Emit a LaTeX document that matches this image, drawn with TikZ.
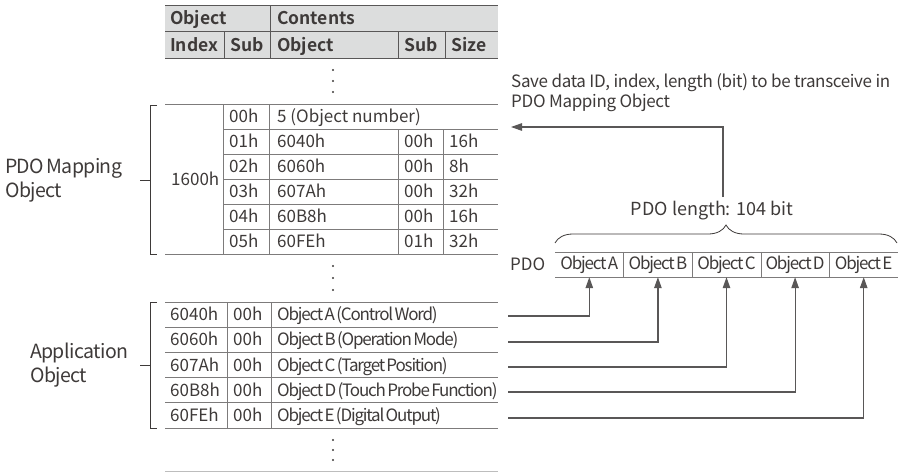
\documentclass[tikz,border=0pt]{standalone}
\usepackage{fontspec}
\setmainfont{Noto Sans CJK SC}[BoldFont={Noto Sans CJK SC Bold}]
\newfontfamily\narrowfont{Noto Sans CJK SC}[LetterSpace=-7, WordSpace=0.5]
\newfontfamily\labelfont{Noto Sans CJK SC}[LetterSpace=-3, WordSpace=0.6]
\newfontfamily\notefont{Noto Sans CJK SC}[LetterSpace=-2]
\usepackage{tikz}
\usetikzlibrary{arrows.meta, positioning, decorations.pathreplacing}
\definecolor{ink}{HTML}{3E3A39}
\definecolor{rule}{HTML}{7D7B7B}
\definecolor{ruleDark}{HTML}{595757}
\definecolor{ruleSoft}{HTML}{BDBDBD}
\definecolor{band}{HTML}{DCDDDD}

\begin{document}
\begin{tikzpicture}[x=1pt, y=-1pt, font=\fontsize{17pt}{20pt}\selectfont, text=ink]
    \tikzset{
      cell/.style={inner sep=0pt, anchor=west, text height=12.5pt, text depth=0.5pt},
      hd/.style={cell, font=\fontsize{17.5pt}{20pt}\selectfont\bfseries},
      tight/.style={cell, font=\narrowfont\fontsize{17pt}{20pt}\selectfont},
      slot/.style={inner sep=0pt, minimum width=68.6pt, minimum height=25pt,
                   font=\narrowfont\fontsize{17pt}{20pt}\selectfont},
      lbl/.style={inner sep=0pt, anchor=west, align=left,
                  font=\labelfont\fontsize{19.5pt}{24pt}\selectfont},
      grid/.style={draw=rule, line width=0.8pt},
      hdline/.style={draw=ruleDark, line width=0.9pt},
      soft/.style={draw=ruleSoft, line width=0.8pt},
      brk/.style={draw=ink, line width=0.9pt},
      arr/.style={-{Triangle[length=11pt, width=7.5pt]}, draw=ruleDark, line width=1.2pt}
    }
    \useasboundingbox (0,0) rectangle (904,474);

    % header
    \fill[band] (165,5) rectangle (498,58);
    \draw[hdline] (165,5) -- (498,5) (165,31.5) -- (498,31.5) (165,58) -- (498,58);
    \draw[hdline] (270,5) -- (270,58) (224,31.5) -- (224,58)
                  (398,31.5) -- (398,58) (445,31.5) -- (445,58);
    \node[hd] (hobj) at (170,18.5) {Object};
    \node[hd] (hcon) at (277,18.5) {Contents};
    \node[hd] (hidx) at (170,45) {Index};
    \node[hd] (hsub) at (230,45) {Sub};
    \node[hd] (hobj2) at (277,45) {Object};
    \node[hd] (hsub2) at (404,45) {Sub};
    \node[hd] (hsize) at (451,45) {Size};

    % continuation dots
    \foreach \y in {70,81,92,266,278,290,440,450,460}
      \fill[ink] (333,\y) circle (1.2pt);

    % PDO mapping object
    \draw[grid] (165,104) -- (498,104) (165,254) -- (498,254);
    \foreach \y in {129,154,179,204,229}
      \draw[grid] (223,\y) -- (498,\y);
    \draw[grid] (223,104) -- (223,254) (269,104) -- (269,254)
                (398,129) -- (398,254) (443,129) -- (443,254);
    \node[cell] (midx) at (171,179) {1600h};
    \node[cell] (ms0) at (229,116.5) {00h};
    \node[cell] (mo0) at (277,116.5) {5 (Object number)};
    \foreach \s/\o/\b/\z [count=\i] in {01h/6040h/00h/16h, 02h/6060h/00h/8h,
        03h/607Ah/00h/32h, 04h/60B8h/00h/16h, 05h/60FEh/01h/32h} {
      \node[cell] (ms\i) at (229,116.5+25*\i) {\s};
      \node[cell] (mo\i) at (277,116.5+25*\i) {\o};
      \node[cell] (mb\i) at (404,116.5+25*\i) {\b};
      \node[cell] (mz\i) at (449,116.5+25*\i) {\z};
    }
    \draw[brk] (157,105) -- (150,105) -- (150,254) -- (157,254);
    \draw[brk] (140,180) -- (150,180);
    \node[lbl] (mapl) at (5,180) {PDO Mapping\\Object};

    % application object
    \foreach \y in {302,327.2,352.4,377.6,402.8,428}
      \draw[grid] (165,\y) -- (498,\y);
    \draw[grid] (227,302) -- (227,428) (271,302) -- (271,428);
    \draw[soft] (165,471) -- (498,471);
    \foreach \x/\t [count=\i] in {6040h/{Object A (Control Word)},
        6060h/{Object B (Operation Mode)}, 607Ah/{Object C (Target Position)},
        60B8h/{Object D (Touch Probe Function)}, 60FEh/{Object E (Digital Output)}} {
      \node[cell] (ai\i) at (170,289.4+25.2*\i) {\x};
      \node[cell] (as\i) at (233,289.4+25.2*\i) {00h};
      \node[tight] (ao\i) at (277,289.4+25.2*\i) {\t};
    }
    \draw[brk] (157,302) -- (150,302) -- (150,428) -- (157,428);
    \draw[brk] (140,365) -- (150,365);
    \node[lbl] (appl) at (30,365) {Application\\Object};

    % PDO
    \node[cell] (pdo) at (510,264.5) {PDO};
    \foreach \l [count=\i] in {A,B,C,D,E}
      \node[slot] (p\i) at (555+68.6*\i-34.3,264.5) {Object \l};
    \draw[grid] (555,252) -- (898,252) (555,277) -- (898,277);
    \foreach \i in {1,...,4}
      \draw[grid] (p\i.north east) -- (p\i.south east);
    \draw[brk, line width=0.8pt, decorate, decoration={brace, amplitude=18pt}]
      (555,243) -- (897,243);
    \node[font=\fontsize{18pt}{20pt}\selectfont] (plen) at (712,211) {PDO length: 104 bit};
    \node[cell, anchor=north west, align=left, text height=, text depth=,
          font=\notefont\fontsize{17pt}{20pt}\selectfont] (save) at (511,73)
      {Save data ID, index, length (bit) to be transceive in\\PDO Mapping Object};

    % connectors
    \coordinate (up) at (723,197);
    \coordinate (savept) at (511,127);
    \draw[arr] (up) |- (savept);
    \foreach \i/\y in {1/316,2/342,3/367,4/392,5/418} {
      \coordinate (s\i) at (508,\y);
      \draw[arr] (s\i) -| (p\i.south);
    }
  \end{tikzpicture}
\end{document}
